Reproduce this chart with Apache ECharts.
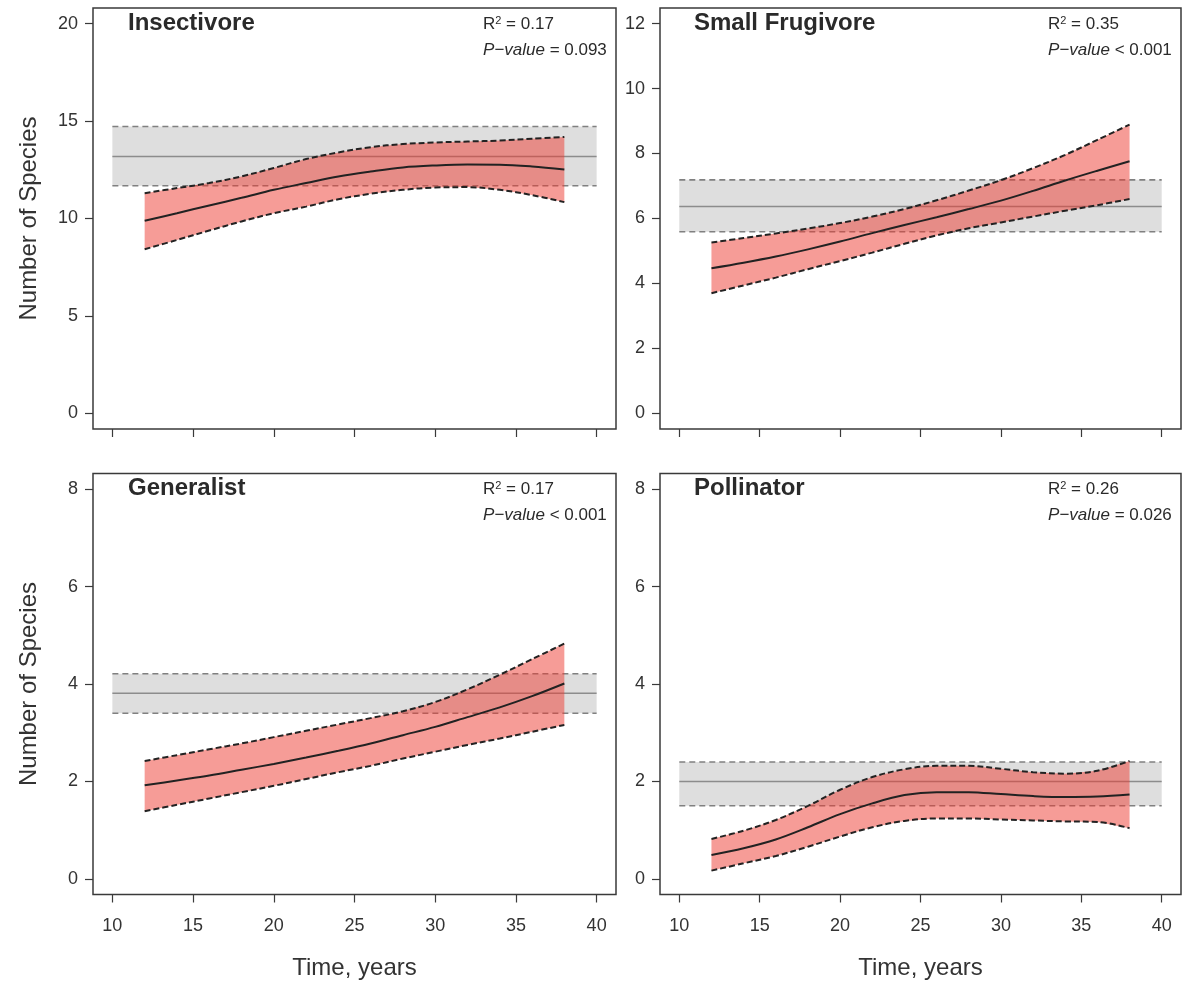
<!DOCTYPE html>
<html style="height: 100%">
<head>
<meta charset="utf-8">
<script type="text/javascript" src="https://cdn.jsdelivr.net/npm/echarts@6/dist/echarts.min.js"></script>
</head>
<body style="width: 100%; height: 100%; margin: 0; background: #fff">
<div id="main" style="width: 1182px; height: 985px;"></div>
<script type="text/javascript">

// years at which the fitted curves were read
var years = [12, 14, 16, 18, 20, 22, 24, 26, 28, 30, 32, 34, 36, 38];
var tickYears = [10, 15, 20, 25, 30, 35, 40];

// Insectivore
var insectFit = [9.88, 10.27, 10.67, 11.06, 11.47, 11.82, 12.16, 12.41, 12.62, 12.72, 12.77, 12.76, 12.67, 12.52];
var insectUp  = [11.30, 11.56, 11.82, 12.16, 12.59, 13.05, 13.39, 13.66, 13.82, 13.90, 13.95, 14.00, 14.09, 14.18];
var insectLow = [8.42, 8.90, 9.38, 9.85, 10.27, 10.61, 10.99, 11.27, 11.47, 11.59, 11.61, 11.47, 11.20, 10.84];
var insectRef = [11.68, 13.18, 14.72];   // lower, mean, upper

// Small Frugivore
var frugFit = [4.47, 4.64, 4.83, 5.05, 5.29, 5.55, 5.80, 6.04, 6.29, 6.55, 6.85, 7.17, 7.47, 7.76];
var frugUp  = [5.26, 5.40, 5.54, 5.69, 5.86, 6.06, 6.29, 6.56, 6.86, 7.18, 7.55, 7.96, 8.42, 8.89];
var frugLow = [3.70, 3.94, 4.18, 4.44, 4.69, 4.95, 5.22, 5.48, 5.70, 5.88, 6.06, 6.24, 6.41, 6.60];
var frugRef = [5.59, 6.37, 7.19];

// Generalist
var genFit = [1.92, 2.02, 2.12, 2.24, 2.36, 2.49, 2.63, 2.78, 2.95, 3.12, 3.32, 3.52, 3.75, 4.01];
var genUp  = [2.42, 2.54, 2.66, 2.78, 2.91, 3.04, 3.17, 3.30, 3.44, 3.63, 3.89, 4.19, 4.51, 4.83];
var genLow = [1.39, 1.52, 1.65, 1.78, 1.91, 2.05, 2.19, 2.32, 2.47, 2.61, 2.75, 2.88, 3.02, 3.16];
var genRef = [3.40, 3.81, 4.21];

// Pollinator
var polFit = [0.49, 0.63, 0.81, 1.06, 1.33, 1.55, 1.72, 1.78, 1.78, 1.74, 1.70, 1.68, 1.69, 1.73];
var polUp  = [0.82, 0.99, 1.21, 1.50, 1.83, 2.09, 2.25, 2.32, 2.32, 2.26, 2.19, 2.16, 2.22, 2.42];
var polLow = [0.17, 0.32, 0.47, 0.66, 0.87, 1.06, 1.19, 1.24, 1.24, 1.22, 1.20, 1.18, 1.17, 1.04];
var polRef = [1.50, 2.00, 2.40];

var panelNames = ['Insectivore', 'Small Frugivore', 'Generalist', 'Pollinator'];
var r2Labels = ['0.17', '0.35', '0.17', '0.26'];
var pLabels = ['= 0.093', '< 0.001', '< 0.001', '= 0.026'];
var yTicks = [[0, 5, 10, 15, 20], [0, 2, 4, 6, 8, 10, 12], [0, 2, 4, 6, 8], [0, 2, 4, 6, 8]];
var yMax = [20, 12, 8, 8];

var myChart = echarts.init(document.getElementById('main'));
var font = '"Liberation Sans", Arial, Helvetica, sans-serif';
var smooth = 0.35;
var redFill = 'rgba(238, 58, 48, 0.5)';

var grids = [
    {left: 93, top: 8, width: 523, height: 421},
    {left: 660, top: 8, width: 521, height: 421},
    {left: 93, top: 473.5, width: 523, height: 421},
    {left: 660, top: 473.5, width: 521, height: 421}
];
grids.forEach(function(g) {
    g.show = true;
    g.borderColor = '#3a3a3a';
    g.borderWidth = 1.5;
    g.backgroundColor = 'transparent';
});

var xAxes = [], yAxes = [];
for (var i = 0; i < 4; i++) {
    var bottomRow = i >= 2;
    xAxes.push({
        type: 'value', gridIndex: i, min: 8.8, max: 41.2,
        name: bottomRow ? 'Time, years' : '',
        nameLocation: 'middle', nameGap: 62,
        nameTextStyle: {fontFamily: font, fontSize: 24, color: '#333'},
        axisLine: {show: false, onZero: false},
        splitLine: {show: false},
        axisTick: {show: true, inside: false, length: 8, customValues: tickYears,
            lineStyle: {color: '#3a3a3a', width: 1.2}},
        axisLabel: {show: bottomRow, customValues: tickYears, margin: 23,
            fontFamily: font, fontSize: 18, color: '#333'}
    });
    var ext = yMax[i] * 0.04;
    yAxes.push({
        type: 'value', gridIndex: i, min: -ext, max: yMax[i] + ext,
        name: (i % 2 === 0) ? 'Number of Species' : '',
        nameLocation: 'middle', nameGap: 52,
        nameTextStyle: {fontFamily: font, fontSize: 24, color: '#333'},
        axisLine: {show: false, onZero: false},
        splitLine: {show: false},
        axisTick: {show: true, inside: false, length: 8, customValues: yTicks[i],
            lineStyle: {color: '#3a3a3a', width: 1.2}},
        axisLabel: {show: true, customValues: yTicks[i], margin: 15,
            fontFamily: font, fontSize: 18, color: '#333'}
    });
}

function pts(ys) {
    return years.map(function(x, k) { return [x, ys[k]]; });
}

var panels = [
    [insectFit, insectUp, insectLow, insectRef],
    [frugFit, frugUp, frugLow, frugRef],
    [genFit, genUp, genLow, genRef],
    [polFit, polUp, polLow, polRef]
];

var series = [];
panels.forEach(function(p, i) {
    var fit = p[0], up = p[1], low = p[2], ref = p[3];
    var ax = {xAxisIndex: i, yAxisIndex: i};
    // grey reference band + mean
    series.push(Object.assign({
        type: 'line', z: 1, symbol: 'none', silent: true,
        data: [[10, ref[1]], [40, ref[1]]],
        lineStyle: {color: '#8c8c8c', width: 1.6},
        markArea: {silent: true, itemStyle: {color: '#dedede'},
            data: [[{coord: [10, ref[0]]}, {coord: [40, ref[2]]}]]}
    }, ax));
    [ref[0], ref[2]].forEach(function(v) {
        series.push(Object.assign({
            type: 'line', z: 1, symbol: 'none', silent: true,
            data: [[10, v], [40, v]],
            lineStyle: {color: '#808080', width: 1.6, type: [6, 4]}
        }, ax));
    });
    // red confidence band
    series.push(Object.assign({
        type: 'custom', z: 2, silent: true, coordinateSystem: 'cartesian2d',
        data: [[years[0], up[0]]],
        renderItem: function(params, api) {
            var poly = [];
            for (var k = 0; k < years.length; k++) poly.push(api.coord([years[k], up[k]]));
            for (var k2 = years.length - 1; k2 >= 0; k2--) poly.push(api.coord([years[k2], low[k2]]));
            return {type: 'polygon', shape: {points: poly}, style: {fill: redFill}};
        }
    }, ax));
    // dashed CI edges and fitted curve
    [up, low].forEach(function(arr) {
        series.push(Object.assign({
            type: 'line', z: 3, symbol: 'none', silent: true, smooth: smooth,
            data: pts(arr),
            lineStyle: {color: '#222', width: 2, type: [6, 3]}
        }, ax));
    });
    series.push(Object.assign({
        type: 'line', z: 4, symbol: 'none', silent: true, smooth: smooth,
        data: pts(fit),
        lineStyle: {color: '#222', width: 2}
    }, ax));
});

// panel titles and stats
var textX = [[128, 483], [694, 1048], [128, 483], [694, 1048]];
var graphics = [];
for (var j = 0; j < 4; j++) {
    var dy = j >= 2 ? 465.5 : 0;
    graphics.push({
        type: 'text', x: textX[j][0], y: 23 + dy,
        style: {text: panelNames[j], font: 'bold 24px ' + font, fill: '#2a2a2a',
            textVerticalAlign: 'middle', verticalAlign: 'middle'}
    });
    graphics.push({
        type: 'text', x: textX[j][1], y: 24 + dy,
        style: {text: 'R{s|2} = ' + r2Labels[j], font: '17px ' + font, fill: '#2a2a2a',
            textVerticalAlign: 'middle', verticalAlign: 'middle',
            rich: {s: {fontSize: 11, fontFamily: font, verticalAlign: 'top', padding: [0, 0, 7, 0]}}}
    });
    graphics.push({
        type: 'text', x: textX[j][1], y: 50 + dy,
        style: {text: '{i|P\u2212value} ' + pLabels[j], font: '17px ' + font, fill: '#2a2a2a',
            textVerticalAlign: 'middle', verticalAlign: 'middle',
            rich: {i: {fontStyle: 'italic', fontSize: 17, fontFamily: font}}}
    });
}

var option = {
    animation: false,
    backgroundColor: '#fff',
    grid: grids,
    xAxis: xAxes,
    yAxis: yAxes,
    series: series,
    graphic: graphics
};
myChart.setOption(option);
</script>
</body>
</html>
